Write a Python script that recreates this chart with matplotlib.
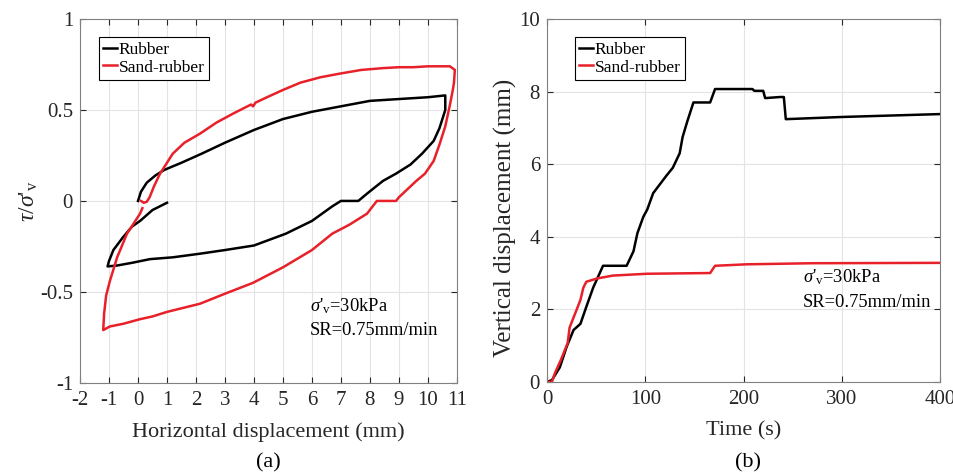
import matplotlib
matplotlib.use('Agg')
import matplotlib.pyplot as plt

plt.rcParams['font.family'] = ['Liberation Serif', 'DejaVu Serif']
plt.rcParams['mathtext.fontset'] = 'custom'
plt.rcParams['mathtext.rm'] = 'Liberation Serif'
plt.rcParams['mathtext.it'] = 'Liberation Serif:italic'

# (a) shear stress ratio vs horizontal displacement
rub_x = [0, 0.1, 0.3, 0.6, 0.9, 1.5, 2.2, 3.0, 4.0, 5.0, 6.0, 7.0, 8.0, 9.0, 10.0, 10.6,
         10.6, 10.4, 10.2, 9.8, 9.4, 8.9, 8.45, 7.9, 7.6, 7.0, 6.7, 6.0, 5.1, 4.0, 3.0,
         2.14, 1.2, 0.41, -0.2, -0.72, -1.05, -1.0, -0.85, -0.52, -0.2, 0.07, 0.5, 1.0]
rub_y = [0, 0.05, 0.1, 0.14, 0.17, 0.21, 0.26, 0.32, 0.39, 0.45, 0.49, 0.52, 0.55, 0.56, 0.57, 0.58,
         0.5, 0.4, 0.33, 0.26, 0.2, 0.15, 0.11, 0.04, 0.0, 0.0, -0.03, -0.11, -0.18, -0.245, -0.27,
         -0.29, -0.31, -0.32, -0.34, -0.355, -0.36, -0.33, -0.27, -0.2, -0.14, -0.11, -0.05, -0.01]

sr_x = [0.1, 0.2, 0.3, 0.4, 0.55, 0.76, 1.2, 1.6, 2.14, 2.7, 3.28, 3.9, 3.97, 4.05, 4.45, 5.0,
        5.6, 6.3, 6.97, 7.7, 8.45, 9.0, 9.5, 10.0, 10.76, 10.93, 10.9, 10.86, 10.75, 10.6, 10.4,
        10.2, 9.9, 9.6, 9.5, 9.2, 9.0, 8.9, 8.24, 7.9, 7.3, 6.7, 6.0, 5.0, 3.97, 3.0, 2.14, 1.0,
        0.5, 0.07, -0.5, -0.97, -1.2, -1.17, -1.1, -0.97, -0.72, -0.38, 0.07, 0.15]
sr_y = [0.0, -0.01, -0.005, 0.02, 0.08, 0.15, 0.26, 0.32, 0.37, 0.43, 0.48, 0.53, 0.52, 0.54, 0.57, 0.61,
        0.65, 0.68, 0.70, 0.72, 0.73, 0.735, 0.735, 0.74, 0.74, 0.72, 0.65, 0.61, 0.52, 0.41, 0.31,
        0.22, 0.15, 0.11, 0.095, 0.05, 0.02, 0.0, 0.0, -0.07, -0.13, -0.18, -0.27, -0.365, -0.45, -0.51, -0.565, -0.61,
        -0.635, -0.65, -0.675, -0.69, -0.71, -0.62, -0.52, -0.44, -0.31, -0.18, -0.07, -0.04]

# (b) vertical displacement vs time
rub_t = [0, 5, 13, 20, 27, 34, 40, 47, 57, 81, 88, 92, 98, 102, 108, 122, 128, 135, 138, 143, 149,
         166, 171, 209, 211, 220, 222, 237, 241, 243, 300, 350, 400]
rub_v = [0, 0.05, 0.4, 0.97, 1.43, 1.6, 2.07, 2.6, 3.2, 3.2, 3.6, 4.1, 4.55, 4.75, 5.2, 5.7, 5.9, 6.3, 6.75, 7.2, 7.7,
         7.7, 8.07, 8.07, 8.02, 8.02, 7.82, 7.85, 7.85, 7.24, 7.3, 7.34, 7.38]

sr_t = [0, 5, 8, 14, 21, 23, 30, 34, 37, 40, 51, 67, 102, 166, 171, 203, 270, 400]
sr_v = [0, 0, 0.24, 0.6, 1.07, 1.5, 1.98, 2.26, 2.6, 2.76, 2.85, 2.93, 2.98, 3.0, 3.2, 3.24, 3.27, 3.28]

labels = ['Rubber', 'Sand-rubber']
colors = ['black', '#e8202a']
sig_txt = r"$\sigma$'$_{\mathrm{v}}$=30kPa"

fig = plt.figure(figsize=(9.54, 4.75), dpi=100)
ax1 = fig.add_axes([0.0839, 0.194, 0.395, 0.766])
ax2 = fig.add_axes([0.5734, 0.196, 0.412, 0.764])

ax1.plot(rub_x, rub_y, color=colors[0], lw=1.8, label=labels[0])
ax1.plot(sr_x, sr_y, color=colors[1], lw=1.8, label=labels[1])
ax1.set_xlim(-2, 11)
ax1.set_ylim(-1, 1)
ax1.set_xticks(range(-2, 12))
ax1.set_yticks([-1, -0.5, 0, 0.5, 1])
ax1.set_yticklabels(['-1', '-0.5', '0', '0.5', '1'])
ax1.set_xticklabels([str(v) for v in range(-2, 12)])
ax1.set_xlabel('Horizontal displacement (mm)', fontsize=16, color='#262626', labelpad=9)
ax1.set_ylabel(r"$\tau/\sigma$'$_{\mathrm{v}}$", fontsize=17, color='#262626', labelpad=0)
ax1.text(5.93, -0.58, sig_txt, fontsize=13.3, va='center')
ax1.text(5.93, -0.71, 'SR=0.75mm/min', fontsize=13.3, va='center')

ax2.plot(rub_t, rub_v, color=colors[0], lw=1.8, label=labels[0])
ax2.plot(sr_t, sr_v, color=colors[1], lw=1.8, label=labels[1])
ax2.set_xlim(0, 400)
ax2.set_ylim(0, 10)
ax2.set_xticks([0, 100, 200, 300, 400])
ax2.set_yticks([0, 2, 4, 6, 8, 10])
ax2.set_xlabel('Time (s)', fontsize=16, color='#262626', labelpad=9)
ax2.set_ylabel('Vertical displacement (mm)', fontsize=18, color='#262626')
ax2.yaxis.set_label_coords(-0.076, 0.452)
ax2.text(260, 2.9, sig_txt, fontsize=13.3, va='center')
ax2.text(260, 2.2, 'SR=0.75mm/min', fontsize=13.3, va='center')

for ax, lx in [(ax1, 0.05), (ax2, 0.071)]:
    ax.grid(True, color='#e3e3e3', lw=0.8)
    ax.set_axisbelow(True)
    ax.tick_params(direction='in', labelsize=15, colors='#262626', length=4,
                   top=True, right=True)
    ax.tick_params(axis='x', pad=6)
    ax.tick_params(axis='y', pad=5)
    for s in ax.spines.values():
        s.set_color('#808080')
        s.set_linewidth(0.8)
    leg = ax.legend(loc='upper left', bbox_to_anchor=(lx, 0.95), borderaxespad=0,
                    fontsize=12.5, handlelength=0.8, handletextpad=0.1, borderpad=0.25,
                    labelspacing=0.1, fancybox=False, framealpha=1)
    leg.get_frame().set_edgecolor('black')
    leg.get_frame().set_linewidth(0.8)

fig.text(0.281, 0.025, '(a)', fontsize=16, ha='center', va='center')
fig.text(0.784, 0.025, '(b)', fontsize=16, ha='center', va='center')

fig.savefig('out.png', dpi=100)
